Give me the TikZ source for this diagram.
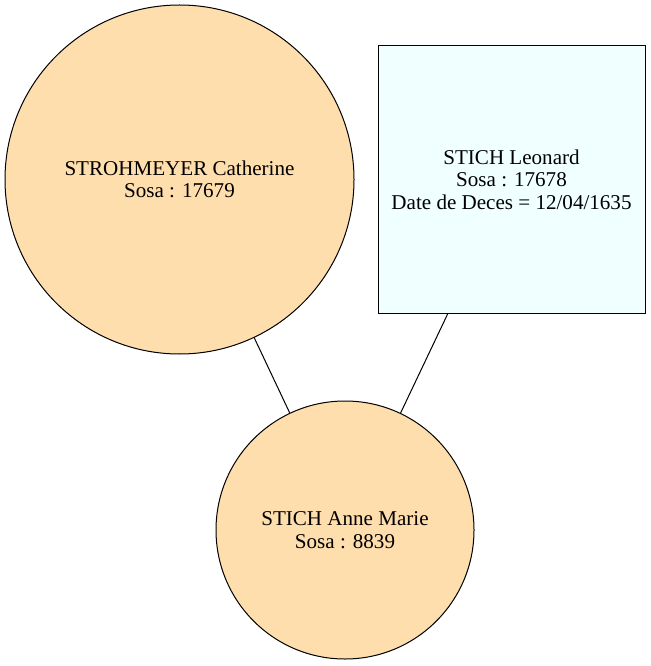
\documentclass[tikz,border=0pt]{standalone}
\usepackage{fontspec}
\setmainfont{Liberation Serif}
\usepackage{tikz}
\usetikzlibrary{positioning}
\usepackage{xcolor}
\definecolor{navajo}{HTML}{FFDEAD}
\definecolor{azur}{HTML}{F0FFFF}

\begin{document}
\begin{tikzpicture}[x=.75pt,y=-.75pt,line width=.75pt,
  every node/.style={align=center,font=\fontsize{15.8}{17}\selectfont,inner sep=0pt},
  femme/.style={circle,draw,fill=navajo},
  homme/.style={rectangle,draw,fill=azur,minimum size=200.25pt}]
\useasboundingbox (0,0) rectangle (650,666);
\node[femme,minimum size=261.75pt] (catherine) at (179.5,179.5) {STROHMEYER Catherine\\Sosa : 17679};
\node[homme] (leonard) at (511.5,179.5) {STICH Leonard\\Sosa : 17678\\Date de Deces = 12/04/1635};
\node[femme,minimum size=193.5pt] (annemarie) at (345,530) {STICH Anne Marie\\Sosa : 8839};
\draw (catherine)--(annemarie);
\draw (leonard)--(annemarie);
\end{tikzpicture}
\end{document}
